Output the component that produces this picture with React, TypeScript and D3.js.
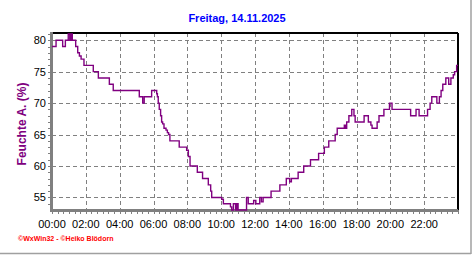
import React from "react";
import * as d3 from "d3";

const title = "Freitag, 14.11.2025";
const yTitle = "Feuchte A. (%)";
const footer = "©WxWin32 - ©Heiko Blödorn";

const xTickLabels = ["00:00","02:00","04:00","06:00","08:00","10:00","12:00","14:00","16:00","18:00","20:00","22:00"];
const yTickValues = [55, 60, 65, 70, 75, 80];

// time of day in hours, relative humidity in %
const hours = [
  0.00, 0.24, 0.63, 0.79, 0.96, 1.05, 1.12, 1.20, 1.40, 1.52, 1.62, 1.72, 1.89,
  2.44, 2.74, 3.39, 3.62, 5.16, 5.36, 5.45, 5.89, 6.19, 6.23, 6.28, 6.34, 6.42,
  6.48, 6.54, 6.62, 6.74, 6.82, 6.89, 6.97, 7.52, 7.96, 8.06, 8.16, 8.59, 8.90,
  9.24, 9.38, 9.44, 10.03, 10.13, 10.55, 10.62, 10.72, 10.85, 10.92, 11.00, 11.50,
  11.60, 11.92, 12.05, 12.28, 12.38, 12.48, 12.95, 13.47, 13.85, 14.05, 14.15,
  14.55, 14.88, 15.28, 15.76, 16.10, 16.36, 16.74, 16.86, 17.28, 17.34, 17.42,
  17.55, 17.72, 17.85, 17.92, 18.45, 18.70, 18.85, 18.92, 19.22, 19.33, 19.62,
  19.95, 20.10, 21.20, 21.52, 21.70, 22.20, 22.35, 22.45, 22.75, 22.90, 23.00,
  23.10, 23.28, 23.45, 23.58, 23.72, 23.80, 23.92, 24.00
];
const humidity = [
  79, 80, 79, 80, 81, 80, 81, 80, 79, 78, 77.5, 77, 76,
  75, 74, 73, 72, 71, 70, 71, 72, 71.5, 71, 70, 69, 68,
  67, 66.7, 66, 65.7, 65.3, 65, 64, 63, 62.5, 61.5, 60, 59, 58,
  57, 56, 55, 54.7, 54, 53.5, 53, 54, 53, 54, 53, 55,
  54, 54.5, 54, 55, 54.3, 55, 56, 57, 58, 57.5, 58,
  59, 60, 61, 62, 63, 64, 65, 66, 66.5, 66, 67,
  68, 69, 68, 67, 68, 67, 66.5, 66, 67, 68, 69,
  70, 69, 68, 69, 68, 69, 70, 71, 70, 71, 72,
  73, 74, 73, 74, 74.5, 75, 76, 76
];

const W = 472;
const H = 255;
const L = 52, R = 458, T = 33, B = 210;

export default function App() {
  const x = d3.scaleLinear().domain([0, 24]).range([L, R]);
  const y = d3.scaleLinear().domain([53, 81.15]).range([B, T]);
  const data = hours.map((h, i) => [h, humidity[i]] as [number, number]);
  const line = d3.line<[number, number]>()
    .x(d => x(d[0]))
    .y(d => y(d[1]))
    .curve(d3.curveStepAfter);

  const majorX = d3.range(0, 24, 2);
  const minorX = d3.range(0, 24 * 3 + 1).map(i => i / 3);
  const minorY = d3.range(54, 82, 1);
  const font = "Arial, 'Liberation Sans', sans-serif";

  return (
    <svg width={W} height={H} style={{ position: "absolute", left: 0, top: 0, background: "#fff" }}>
      <rect x={0} y={0} width={W} height={H} fill="#fff" />
      {/* frame */}
      <line x1={471} y1={0} x2={471} y2={254} stroke="#a0a0a0" strokeWidth={1.5} />
      <line x1={0} y1={253.5} x2={471} y2={253.5} stroke="#a0a0a0" strokeWidth={1.5} />

      <text x={237} y={22} textAnchor="middle" fill="#0000ff" fontWeight="bold" fontSize={11} fontFamily={font}>{title}</text>

      {/* grid */}
      {majorX.filter(h => h > 0).map(h => (
        <line key={"gx" + h} x1={Math.round(x(h)) + 0.5} x2={Math.round(x(h)) + 0.5} y1={T} y2={B}
          stroke="#808080" strokeDasharray="4,3" shapeRendering="crispEdges" />
      ))}
      {yTickValues.map(v => (
        <line key={"gy" + v} x1={L} x2={R} y1={Math.round(y(v)) + 0.5} y2={Math.round(y(v)) + 0.5}
          stroke="#808080" strokeDasharray="4,3" shapeRendering="crispEdges" />
      ))}

      {/* minor ticks */}
      {minorX.map((h, i) => (
        <line key={"tx" + i} x1={Math.round(x(h)) + 0.5} x2={Math.round(x(h)) + 0.5} y1={B} y2={B + 4}
          stroke="#808080" shapeRendering="crispEdges" />
      ))}
      {minorY.map(v => (
        <line key={"ty" + v} x1={L - 4} x2={L} y1={Math.round(y(v)) + 0.5} y2={Math.round(y(v)) + 0.5}
          stroke="#808080" shapeRendering="crispEdges" />
      ))}

      {/* borders */}
      <line x1={L} x2={R} y1={T} y2={T} stroke="#000" strokeWidth={2} shapeRendering="crispEdges" />
      <line x1={R} x2={R} y1={T} y2={B} stroke="#000" strokeWidth={2} shapeRendering="crispEdges" />
      <line x1={L - 1} x2={L - 1} y1={T - 1} y2={B + 1} stroke="#808080" strokeWidth={3} shapeRendering="crispEdges" />
      <line x1={L - 2} x2={R} y1={B} y2={B} stroke="#808080" strokeWidth={3} shapeRendering="crispEdges" />

      {/* data */}
      <path d={line(data) || ""} fill="none" stroke="#800080" strokeWidth={1.4} />

      {/* labels */}
      {yTickValues.map(v => (
        <text key={"ly" + v} x={46} y={y(v) + 4} textAnchor="end" fontSize={11} fontFamily={font} fill="#000">{v}</text>
      ))}
      {majorX.map((h, i) => (
        <text key={"lx" + h} x={x(h)} y={228} textAnchor="middle" fontSize={11} fontFamily={font} fill="#000">{xTickLabels[i]}</text>
      ))}

      <text transform="translate(26,124) rotate(-90)" textAnchor="middle" fill="#800080" fontWeight="bold" fontSize={12} fontFamily={font}>{yTitle}</text>

      <text x={18} y={241} fill="#ff0000" fontSize={7} fontWeight="bold" fontFamily={font}>{footer}</text>
    </svg>
  );
}
